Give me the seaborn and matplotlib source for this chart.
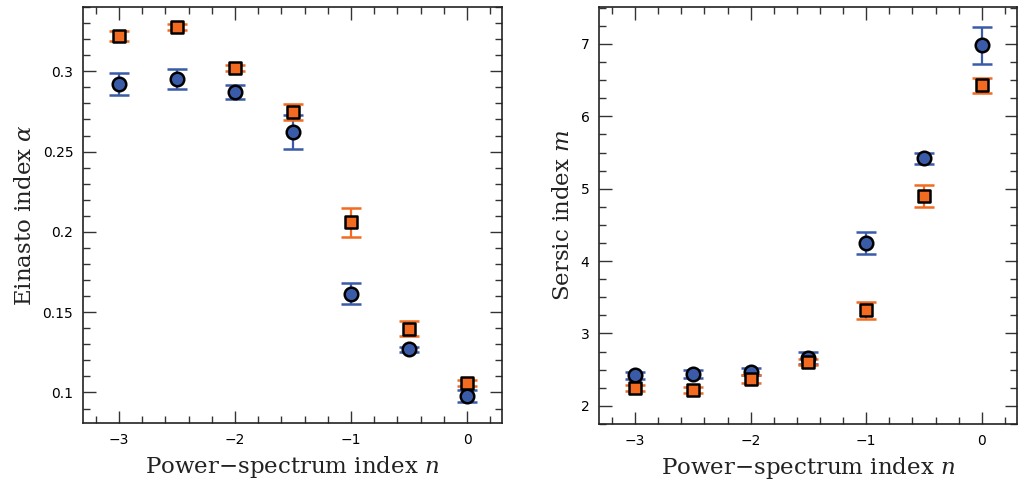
import matplotlib
matplotlib.use("Agg")
import matplotlib.pyplot as plt
from matplotlib.ticker import MultipleLocator, FormatStrFormatter
import seaborn as sns
import pandas as pd

# power-spectrum index
n_vals = [-3.0, -2.5, -2.0, -1.5, -1.0, -0.5, 0.0]

# Einasto alpha (blue circles / orange squares)
alpha_blue = [0.2923, 0.2950, 0.2873, 0.2622, 0.1615, 0.1270, 0.0980]
alpha_blue_err = [0.0068, 0.0062, 0.0044, 0.0104, 0.0066, 0.0015, 0.0037]
alpha_orange = [0.3220, 0.3276, 0.3020, 0.2745, 0.2061, 0.1397, 0.1058]
alpha_orange_err = [0.0030, 0.0020, 0.0020, 0.0050, 0.0090, 0.0045, 0.0020]

# Sersic m
m_blue = [2.42, 2.44, 2.47, 2.66, 4.25, 5.42, 6.98]
m_blue_err = [0.05, 0.05, 0.05, 0.08, 0.15, 0.08, 0.26]
m_orange = [2.25, 2.22, 2.37, 2.61, 3.32, 4.90, 6.43]
m_orange_err = [0.045, 0.045, 0.05, 0.04, 0.12, 0.15, 0.106]

blue = "#3a5ba8"
orange = "#f26b21"

sns.set_theme(style="ticks")
plt.rcParams["font.family"] = ["DejaVu Sans"]
plt.rcParams["mathtext.fontset"] = "dejavuserif"

fig = plt.figure(figsize=(10.19, 4.87), dpi=100)
ax1 = fig.add_axes([0.0815, 0.1314, 0.411, 0.8542])
ax2 = fig.add_axes([0.588, 0.1294, 0.4096, 0.8562])


def panel(ax, yb, eb, yo, eo):
    ax.errorbar(n_vals, yb, yerr=eb, fmt="none", ecolor=blue, elinewidth=1.6,
                capsize=7, capthick=1.8, zorder=2)
    ax.errorbar(n_vals, yo, yerr=eo, fmt="none", ecolor=orange, elinewidth=1.6,
                capsize=7, capthick=1.8, zorder=2)
    df = pd.DataFrame({"n": n_vals, "b": yb, "o": yo})
    sns.scatterplot(data=df, x="n", y="b", ax=ax, marker="o", s=95, color=blue,
                    edgecolor="black", linewidth=1.8, zorder=3)
    sns.scatterplot(data=df, x="n", y="o", ax=ax, marker="s", s=85, color=orange,
                    edgecolor="black", linewidth=1.8, zorder=4)
    ax.set_xlim(-3.31, 0.30)
    ax.xaxis.set_major_locator(MultipleLocator(1))
    ax.xaxis.set_minor_locator(MultipleLocator(0.2))
    ax.tick_params(which="both", direction="in", top=True, right=True,
                   labelsize=10, width=1.0, color="#333333", labelcolor="black")
    ax.tick_params(which="major", length=9, pad=7)
    ax.tick_params(which="minor", length=5)
    for s in ax.spines.values():
        s.set_linewidth(1.2)
        s.set_color("#222222")
    ax.set_xlabel("Power\u2212spectrum index $n$", family="DejaVu Serif",
                  fontsize=16.5, labelpad=5, color="#222222")
    ax.xaxis.set_major_formatter(
        plt.FuncFormatter(lambda v, p: f"{int(round(v))}".replace("-", "\u2212")))


panel(ax1, alpha_blue, alpha_blue_err, alpha_orange, alpha_orange_err)
ax1.set_ylim(0.081, 0.340)
ax1.yaxis.set_major_locator(MultipleLocator(0.05))
ax1.yaxis.set_minor_locator(MultipleLocator(0.01))
ax1.yaxis.set_major_formatter(plt.FuncFormatter(lambda v, p: f"{v:g}"))
ax1.set_ylabel("Einasto index $\\alpha$", family="DejaVu Serif", fontsize=16.5,
               labelpad=5, color="#222222")

panel(ax2, m_blue, m_blue_err, m_orange, m_orange_err)
ax2.set_ylim(1.75, 7.51)
ax2.yaxis.set_major_locator(MultipleLocator(1))
ax2.yaxis.set_minor_locator(MultipleLocator(0.25))
ax2.yaxis.set_major_formatter(FormatStrFormatter("%d"))
ax2.set_ylabel("Sersic index $m$", family="DejaVu Serif", fontsize=16.5,
               labelpad=5, color="#222222")

fig.savefig("out.png", dpi=100)
